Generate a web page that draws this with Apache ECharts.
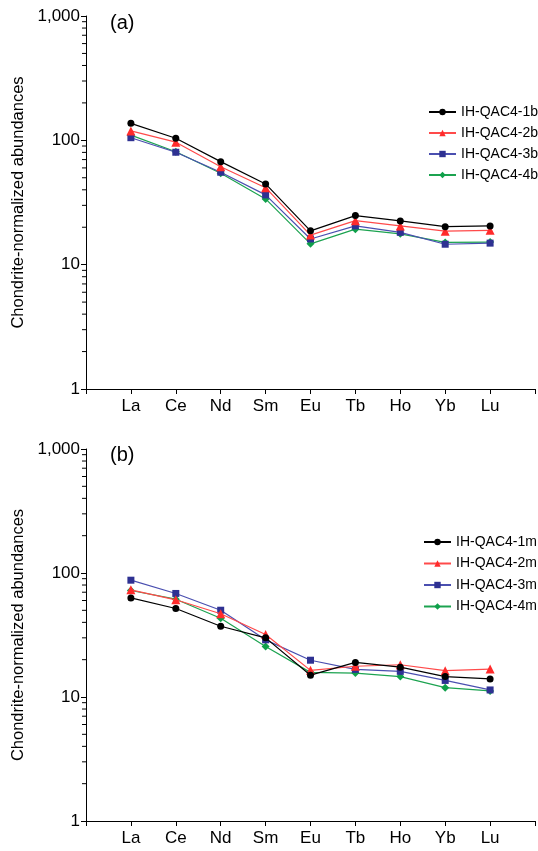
<!DOCTYPE html>
<html>
<head>
<meta charset="utf-8">
<script src="https://cdn.jsdelivr.net/npm/echarts@6/dist/echarts.min.js"></script>
<style>
html, body { margin: 0; padding: 0; background: #fff; }
#main { width: 538px; height: 851px; }
</style>
</head>
<body>
<div id="main"></div>
<script>
// REE elements on the x axis (positions 1..9)
var elements = ['La', 'Ce', 'Nd', 'Sm', 'Eu', 'Tb', 'Ho', 'Yb', 'Lu'];

// panel (a) - bulk samples
var namesA = ['IH-QAC4-1b', 'IH-QAC4-2b', 'IH-QAC4-3b', 'IH-QAC4-4b'];
var qac1b = [137, 104, 67.4, 44.6, 18.7, 24.8, 22.5, 20.2, 20.5];
var qac2b = [119, 96.6, 61.4, 41.6, 17.3, 22.6, 20.5, 18.6, 18.9];
var qac3b = [105, 80.2, 55.4, 36.4, 16.1, 20.5, 18.2, 14.6, 14.9];
var qac4b = [110, 81, 54.4, 33.8, 14.7, 19.3, 17.7, 15.1, 15.2];

// panel (b)
var namesB = ['IH-QAC4-1m', 'IH-QAC4-2m', 'IH-QAC4-3m', 'IH-QAC4-4m'];
var qac1m = [63, 51.7, 37.2, 30, 15, 19, 17.4, 14.6, 14.0];
var qac2m = [73.2, 60.8, 46.9, 31.9, 16.4, 17.7, 18.2, 16.3, 16.8];
var qac3m = [87.5, 68.4, 50.1, 28.9, 19.8, 16.7, 16.1, 13.6, 11.4];
var qac4m = [72.3, 61.5, 43.2, 25.5, 15.8, 15.6, 14.6, 11.9, 11.2];

// log axis minor tick values
var minorTicks = [2, 3, 4, 5, 6, 7, 8, 9, 20, 30, 40, 50, 60, 70, 80, 90, 200, 300, 400, 500, 600, 700, 800, 900];

var colors = ['#000000', '#ff2b2b', '#2e3192', '#0fa04a'];
var lineColors = ['#000000', '#ff4a4a', '#4a4fb0', '#1ca350'];
var symbols = ['circle', 'triangle', 'rect', 'diamond'];
var symbolSizes = [7, 9, 7, 8];
var font = 'Liberation Sans, Arial, sans-serif';

function pairs(vals) {
    return vals.map(function (v, i) { return [i + 1, v]; });
}

function makeSeries(name, vals, k, idx) {
    return {
        name: name,
        type: 'line',
        xAxisIndex: idx,
        yAxisIndex: idx,
        data: pairs(vals),
        symbol: symbols[k],
        symbolSize: symbolSizes[k],
        showSymbol: true,
        itemStyle: { color: colors[k] },
        lineStyle: { color: lineColors[k], width: 1.2 },
        emphasis: { disabled: true },
        z: 10 - k
    };
}

function minorSeries(idx) {
    return {
        type: 'custom',
        xAxisIndex: idx,
        yAxisIndex: idx,
        silent: true,
        clip: false,
        data: minorTicks.map(function (v) { return [0, v]; }),
        renderItem: function (params, api) {
            var p = api.coord([0, api.value(1)]);
            return {
                type: 'line',
                shape: { x1: p[0] - 4, y1: p[1], x2: p[0], y2: p[1] },
                style: { stroke: '#000', lineWidth: 1 }
            };
        }
    };
}

function xAxisOpt(idx) {
    return {
        type: 'value',
        gridIndex: idx,
        min: 0,
        max: 10,
        interval: 1,
        splitLine: { show: false },
        axisLine: { lineStyle: { color: '#000', width: 1 } },
        axisTick: { length: 5, lineStyle: { color: '#000' } },
        axisLabel: {
            color: '#000',
            fontSize: 17,
            fontFamily: font,
            margin: 9,
            formatter: function (v) { return elements[v - 1] || ''; }
        }
    };
}

function yAxisOpt(idx) {
    return {
        type: 'log',
        gridIndex: idx,
        logBase: 10,
        min: 1,
        max: 1000,
        name: 'Chondrite-normalized abundances',
        nameLocation: 'middle',
        nameGap: 56,
        nameTextStyle: { color: '#000', fontSize: 16.5, fontFamily: font },
        splitLine: { show: false },
        axisLine: { show: true, lineStyle: { color: '#000', width: 1 } },
        axisTick: { length: 5, lineStyle: { color: '#000' } },
        axisLabel: {
            color: '#000',
            fontSize: 17,
            fontFamily: font,
            margin: 6,
            formatter: function (v) { return v >= 1000 ? '1,000' : String(v); }
        }
    };
}

function legendOpt(names, left, top, gap) {
    return {
        data: names,
        orient: 'vertical',
        left: left,
        top: top,
        padding: 0,
        itemWidth: 27,
        itemHeight: 8,
        itemGap: gap,
        textStyle: { color: '#000', fontSize: 14, fontFamily: font },
        selectedMode: false
    };
}

var chart = echarts.init(document.getElementById('main'));

var series = [];
[qac1b, qac2b, qac3b, qac4b].forEach(function (vals, k) {
    series.push(makeSeries(namesA[k], vals, k, 0));
});
[qac1m, qac2m, qac3m, qac4m].forEach(function (vals, k) {
    series.push(makeSeries(namesB[k], vals, k, 1));
});
series.push(minorSeries(0));
series.push(minorSeries(1));

var option = {
    backgroundColor: '#fff',
    animation: false,
    title: [
        { text: '(a)', left: 105, top: 8, textStyle: { color: '#000', fontSize: 20, fontWeight: 'normal', fontFamily: font } },
        { text: '(b)', left: 105, top: 440, textStyle: { color: '#000', fontSize: 20, fontWeight: 'normal', fontFamily: font } }
    ],
    legend: [
        legendOpt(namesA, 428, 105, 7),
        legendOpt(namesB, 423, 535, 7.5)
    ],
    grid: [
        { left: 86, top: 16, width: 451, height: 373 },
        { left: 86, top: 449, width: 451, height: 372 }
    ],
    xAxis: [xAxisOpt(0), xAxisOpt(1)],
    yAxis: [yAxisOpt(0), yAxisOpt(1)],
    series: series
};

chart.setOption(option);
</script>
</body>
</html>
